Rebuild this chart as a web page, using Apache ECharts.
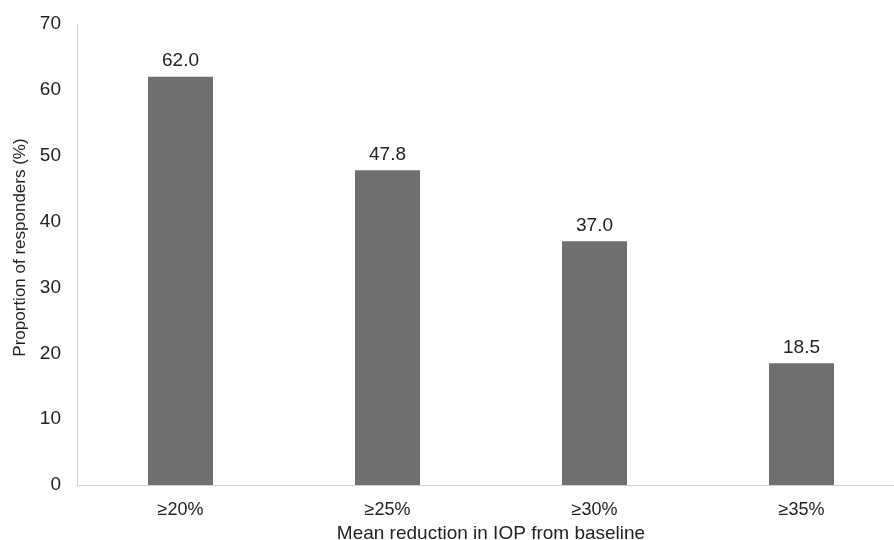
<!DOCTYPE html>
<html>
<head>
<meta charset="utf-8">
<script src="https://cdn.jsdelivr.net/npm/echarts@6/dist/echarts.min.js"></script>
<style>
  html, body { margin: 0; padding: 0; background: #fff; }
  #chart { width: 894px; height: 540px; }
</style>
</head>
<body>
<div id="chart"></div>
<script>
// Share of responders by IOP reduction threshold
const categories = ['≥20%', '≥25%', '≥30%', '≥35%'];
const responders = [62.0, 47.8, 37.0, 18.5];
const yTicks = [0, 10, 20, 30, 40, 50, 60, 70];

const chart = echarts.init(document.getElementById('chart'), null, { renderer: 'canvas' });
const font = 'Liberation Sans, Arial, Helvetica, sans-serif';

chart.setOption({
  animation: false,
  backgroundColor: '#ffffff',
  grid: {
    left: 77, right: -11, top: 24, bottom: 55,
    containLabel: false,
    outerBoundsMode: 'none'
  },
  xAxis: {
    type: 'category',
    data: categories,
    name: 'Mean reduction in IOP from baseline',
    nameLocation: 'middle',
    nameGap: 37,
    nameTextStyle: { fontFamily: font, fontSize: 19, color: '#222' },
    axisLine: { lineStyle: { color: '#d0d0d0', width: 1 } },
    axisTick: { show: false },
    axisLabel: { fontFamily: font, fontSize: 18, color: '#222', margin: 16 }
  },
  yAxis: {
    type: 'value',
    min: yTicks[0],
    max: yTicks[yTicks.length - 1],
    interval: 10,
    name: 'Proportion of responders (%)',
    nameLocation: 'middle',
    nameGap: 48,
    nameTextStyle: { fontFamily: font, fontSize: 17, color: '#222', padding: [0, 0, 0, 14] },
    axisLine: { show: true, lineStyle: { color: '#d0d0d0', width: 1 } },
    axisTick: { show: false },
    splitLine: { show: false },
    axisLabel: { fontFamily: font, fontSize: 19, color: '#222', margin: 16 }
  },
  series: [{
    type: 'bar',
    data: responders,
    barWidth: 65,
    itemStyle: { color: '#6f6f6f' },
    label: {
      show: true,
      position: 'top',
      distance: 6,
      formatter: p => p.value.toFixed(1),
      fontFamily: font,
      fontSize: 19,
      color: '#222'
    }
  }]
});
</script>
</body>
</html>
